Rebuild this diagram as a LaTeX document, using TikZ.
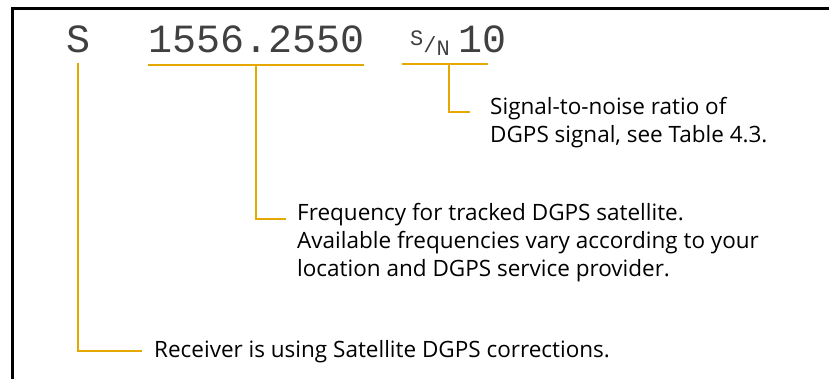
\documentclass[tikz,border=0pt]{standalone}
\usepackage{fontspec}
\setmainfont{Open Sans}
\newfontfamily\lcdfont{Liberation Mono}
\usepackage{tikz}
\usetikzlibrary{positioning}
\definecolor{calloutgold}{RGB}{229,168,0}

\begin{document}
\begin{tikzpicture}[x=1pt, y=-1pt,
  lcd/.style={inner sep=0pt, anchor=base west, text=black!75,
    font=\lcdfont\fontsize{40}{40}\selectfont},
  note/.style={inner sep=0pt, anchor=north west, align=left,
    font=\fontsize{22.5}{28}\selectfont},
  callout/.style={draw=calloutgold, line width=2pt},
  frame/.style={line width=3pt}]
  \useasboundingbox (0,0) rectangle (829,379);
  \draw[frame] (12,379) -- (12,9) -- (829,9);

  % display line
  \node[lcd] (mode) at (66,53) {S};
  \node[lcd] (freq) at (148,53) {1556.2550};
  \node[lcd] (snlbl) at (410,53) {\fontsize{22}{22}\selectfont\raisebox{7pt}{S}/\raisebox{-3pt}{N}};
  \node[lcd] (snval) at (458,53) {10};

  % notes
  \node[note] (snnote) at (490,97) {Signal-to-noise ratio of\\DGPS signal, see Table 4.3.};
  \node[note] (freqnote) at (297,203) {Frequency for tracked DGPS satellite.\\Available frequencies vary according to your\\location and DGPS service provider.};
  \node[note, anchor=base west] (rxnote) at (154,357) {Receiver is using Satellite DGPS corrections.};

  % underlines
  \coordinate (snleft) at (402,64);
  \coordinate (snright) at (488,64);
  \coordinate (sndrop) at (449,64);
  \draw[callout] ([yshift=-11pt]freq.south west) -- ([yshift=-11pt]freq.south east);
  \draw[callout] (snleft) -- (snright);

  % callouts
  \draw[callout] ([yshift=-9pt]mode.south) |- ([xshift=-12pt]rxnote.west);
  \draw[callout] ([yshift=-11pt]freq.south) |- ([xshift=-11pt,yshift=-16pt]freqnote.north west);
  \draw[callout] (sndrop) |- ([xshift=-20pt,yshift=-15pt]snnote.north west);
\end{tikzpicture}
\end{document}
